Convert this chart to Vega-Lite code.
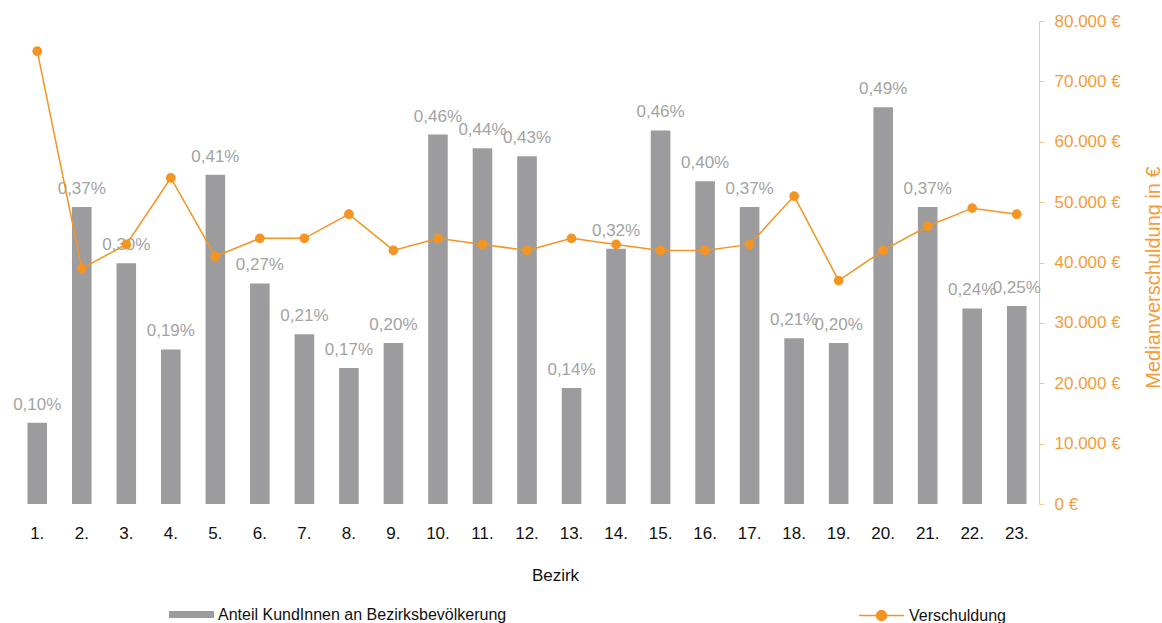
{
  "$schema": "https://vega.github.io/schema/vega-lite/v6.json",
  "width": 1024,
  "height": 483,
  "autosize": {"type": "none"},
  "padding": {"left": 15, "top": 21, "right": 123, "bottom": 119},
  "background": "white",
  "config": {
    "view": {"stroke": null},
    "font": "Liberation Sans",
    "locale": {"number": {"decimal": ",", "thousands": ".", "grouping": [3], "currency": ["", " €"]}}
  },
  "data": {"values": [
    {"Bezirk": "1.", "Anteil": 0.00101, "Verschuldung": 75000},
    {"Bezirk": "2.", "Anteil": 0.00369, "Verschuldung": 39000},
    {"Bezirk": "3.", "Anteil": 0.00299, "Verschuldung": 43000},
    {"Bezirk": "4.", "Anteil": 0.00192, "Verschuldung": 54000},
    {"Bezirk": "5.", "Anteil": 0.00409, "Verschuldung": 41000},
    {"Bezirk": "6.", "Anteil": 0.00274, "Verschuldung": 44000},
    {"Bezirk": "7.", "Anteil": 0.00211, "Verschuldung": 44000},
    {"Bezirk": "8.", "Anteil": 0.00169, "Verschuldung": 48000},
    {"Bezirk": "9.", "Anteil": 0.00200, "Verschuldung": 42000},
    {"Bezirk": "10.", "Anteil": 0.00459, "Verschuldung": 44000},
    {"Bezirk": "11.", "Anteil": 0.00442, "Verschuldung": 43000},
    {"Bezirk": "12.", "Anteil": 0.00432, "Verschuldung": 42000},
    {"Bezirk": "13.", "Anteil": 0.00144, "Verschuldung": 44000},
    {"Bezirk": "14.", "Anteil": 0.00317, "Verschuldung": 43000},
    {"Bezirk": "15.", "Anteil": 0.00464, "Verschuldung": 42000},
    {"Bezirk": "16.", "Anteil": 0.00401, "Verschuldung": 42000},
    {"Bezirk": "17.", "Anteil": 0.00369, "Verschuldung": 43000},
    {"Bezirk": "18.", "Anteil": 0.00206, "Verschuldung": 51000},
    {"Bezirk": "19.", "Anteil": 0.00200, "Verschuldung": 37000},
    {"Bezirk": "20.", "Anteil": 0.00493, "Verschuldung": 42000},
    {"Bezirk": "21.", "Anteil": 0.00369, "Verschuldung": 46000},
    {"Bezirk": "22.", "Anteil": 0.00243, "Verschuldung": 49000},
    {"Bezirk": "23.", "Anteil": 0.00246, "Verschuldung": 48000}
  ]},
  "encoding": {
    "x": {
      "field": "Bezirk", "type": "ordinal", "sort": null,
      "scale": {"paddingInner": 0.56, "paddingOuter": 0.28},
      "title": "Bezirk",
      "axis": {
        "domain": false, "ticks": false, "labelAngle": 0,
        "labelFontSize": 17, "labelColor": "#111111", "labelPadding": 21,
        "titleFontSize": 17, "titleFontWeight": "normal", "titleColor": "#111111", "titlePadding": 26,
        "titleX": 540, "titleAlign": "center"
      }
    }
  },
  "layer": [
    {
      "encoding": {
        "y": {"field": "Anteil", "type": "quantitative", "scale": {"domain": [0, 0.006], "nice": false, "zero": true}, "axis": null}
      },
      "layer": [
        {
          "mark": {"type": "bar"},
          "encoding": {
            "fill": {
              "datum": "Anteil KundInnen an Bezirksbevölkerung",
              "scale": {"range": ["#9C9C9E"]},
              "legend": {
                "orient": "none", "legendX": 154, "legendY": 571, "title": null,
                "symbolType": "M-1,-0.155H1V0.155H-1Z", "symbolSize": 2025,
                "symbolStrokeWidth": 0, "labelFontSize": 16, "labelColor": "#111111", "labelOffset": 4,
                "labelLimit": 500
              }
            }
          }
        },
        {
          "mark": {"type": "text", "baseline": "alphabetic", "dy": -13, "fontSize": 17, "color": "#A3A3A3"},
          "encoding": {"text": {"field": "Anteil", "type": "quantitative", "format": ".2%"}}
        }
      ]
    },
    {
      "encoding": {
        "y": {
          "field": "Verschuldung", "type": "quantitative",
          "scale": {"domain": [0, 80000], "nice": false},
          "axis": {
            "orient": "right", "grid": false,
            "values": [0, 10000, 20000, 30000, 40000, 50000, 60000, 70000, 80000],
            "format": "$,.0f",
            "labelFontSize": 17, "labelColor": "#F39C3A", "labelPadding": 10,
            "domainColor": "#F8C68A", "tickColor": "#F8C68A", "tickSize": 5,
            "title": "Medianverschuldung in €", "titleFontSize": 20, "titleFontWeight": "normal",
            "titleColor": "#F39C3A", "titleAngle": 270, "titleX": 114, "titleY": 256,
            "titleBaseline": "middle", "titleAlign": "center"
          }
        }
      },
      "layer": [
        {
          "mark": {"type": "line", "strokeWidth": 1.5},
          "encoding": {
            "stroke": {
              "datum": "Verschuldung",
              "scale": {"range": ["#F39423"]},
              "legend": {
                "orient": "none", "legendX": 843, "legendY": 571, "title": null,
                "symbolType": "M-1,0H1M-0.22,0A0.22,0.22 0 1,1 0.22,0A0.22,0.22 0 1,1 -0.22,0",
                "symbolSize": 2025, "symbolFillColor": "#F39423", "symbolStrokeColor": "#F39423",
                "symbolStrokeWidth": 1.5, "labelFontSize": 16, "labelColor": "#111111", "labelOffset": 4,
                "labelLimit": 500
              }
            }
          }
        },
        {
          "mark": {"type": "point", "filled": true, "size": 95, "opacity": 1, "color": "#F39423"}
        }
      ]
    }
  ],
  "resolve": {"scale": {"y": "independent", "fill": "independent", "stroke": "independent"}}
}
